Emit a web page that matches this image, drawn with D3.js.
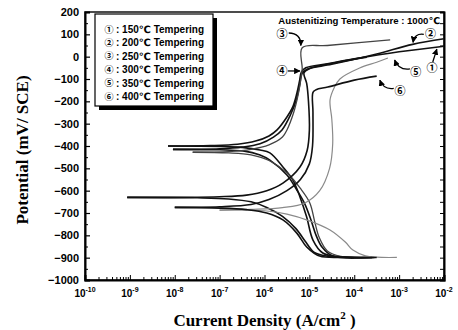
<!DOCTYPE html>
<html>
<head>
<meta charset="utf-8">
<script src="https://cdn.jsdelivr.net/npm/d3@7"></script>
<style>
  html, body { margin: 0; padding: 0; background: #fff; }
  svg { display: block; }
  .num { font-family: "Liberation Sans", Arial, "DejaVu Sans", sans-serif; font-weight: bold; }
  .title { font-family: "Liberation Serif", "Times New Roman", serif; font-weight: bold; }
  .tag { font-family: "Noto Sans CJK JP", "DejaVu Sans", sans-serif; font-weight: bold; }
</style>
</head>
<body>
<svg id="chart" width="458" height="330"></svg>
<script>
// Tempering temperatures (°C) and their circled tags
const tempers = ["150", "200", "250", "300", "350", "400"];
const tags = ["①", "②", "③", "④", "⑤", "⑥"];

// Polarization curves: [log10(current density A/cm²), potential mV vs SCE]
// Each curve is split into its cathodic and anodic branch, both starting at Ecorr.
const cath150 = [[-8.15,-400],[-7.0,-402],[-6.5,-406],[-6.1,-418],[-5.88,-431],[-5.59,-494],[-5.37,-552],[-5.21,-628],[-5.06,-718],[-4.92,-821],[-4.7,-879],[-4.32,-896],[-3.55,-899]];
const anod150 = [[-8.15,-400],[-7.2,-398],[-6.6,-392],[-6.2,-378],[-5.9,-355],[-5.72,-328],[-5.5,-270],[-5.37,-225],[-5.28,-165],[-5.22,-110],[-5.18,-70],[-5.08,-50],[-4.6,-32],[-4.0,-10],[-3.0,22],[-2.0,47]];

const cath200 = [[-8.04,-415],[-7.0,-417],[-6.48,-422],[-6.1,-440],[-5.88,-463],[-5.5,-530],[-5.28,-597],[-5.1,-660],[-4.95,-740],[-4.85,-800],[-4.72,-852],[-4.48,-893],[-3.6,-899]];
const anod200 = [[-8.04,-415],[-7.0,-412],[-6.5,-405],[-6.1,-390],[-5.8,-360],[-5.61,-328],[-5.42,-260],[-5.3,-200],[-5.22,-130],[-5.16,-75],[-5.05,-56],[-4.5,-34],[-3.5,12],[-2.7,55],[-2.0,80]];

const cath250 = [[-7.6,-428],[-6.8,-431],[-6.3,-440],[-5.9,-465],[-5.5,-520],[-5.2,-590],[-4.99,-655],[-4.88,-740],[-4.78,-810],[-4.6,-870],[-4.3,-894],[-3.6,-899]];
const anod250 = [[-7.6,-428],[-6.8,-425],[-6.3,-415],[-5.9,-395],[-5.6,-360],[-5.5,-328],[-5.35,-250],[-5.25,-170],[-5.19,-100],[-5.16,-55],[-5.16,40],[-4.6,50],[-3.2,75]];

const cath300 = [[-9.06,-630],[-7.5,-632],[-6.8,-637],[-6.3,-650],[-5.95,-675],[-5.6,-715],[-5.3,-770],[-5.08,-830],[-4.9,-875],[-4.6,-893],[-4.1,-898],[-3.6,-899]];
const anod300 = [[-9.06,-630],[-7.0,-627],[-6.4,-620],[-5.95,-600],[-5.59,-566],[-5.21,-494],[-5.05,-420],[-5.0,-330],[-5.02,-200],[-5.06,-120],[-5.12,-72],[-5.0,-54],[-4.4,-26],[-3.72,-2]];

const cath350 = [[-7.0,-687],[-6.0,-690],[-5.5,-705],[-5.0,-735],[-4.54,-776],[-4.2,-830],[-4.03,-866],[-3.75,-892],[-3.5,-898],[-3.05,-899]];
const anod350 = [[-7.0,-687],[-6.3,-684],[-5.6,-676],[-5.1,-655],[-4.77,-600],[-4.55,-500],[-4.48,-390],[-4.5,-280],[-4.54,-194],[-4.45,-140],[-4.32,-100],[-3.88,-51],[-3.5,-25],[-3.25,-6]];

const cath400 = [[-8.0,-675],[-7.0,-678],[-6.4,-685],[-5.95,-700],[-5.59,-731],[-5.28,-790],[-5.06,-852],[-4.77,-893],[-4.1,-898],[-3.5,-899]];
const anod400 = [[-8.0,-675],[-7.0,-672],[-6.3,-662],[-5.9,-640],[-5.5,-600],[-5.2,-550],[-5.0,-480],[-4.93,-400],[-4.92,-250],[-4.92,-160],[-4.85,-148],[-4.59,-136],[-4.0,-105],[-3.5,-87]];

const curveColors = ["#111", "#111", "#444", "#111", "#8a8a8a", "#111"];
const curveWidths = [1.6, 1.6, 1.3, 1.6, 1.2, 1.6];

// Axis ticks
const xDecades = [-10, -9, -8, -7, -6, -5, -4, -3, -2];
const yTicks = d3.range(-1000, 201, 100);
const yMinor = d3.range(-950, 200, 100);

// Curve tags in the plot: [label log i, label E, arrow start log i, start E, arrow tip log i, tip E, bend]
const tagSpots = [
  [-2.27, -51, -2.25, -24, -2.16, 34, 0.0],
  [-2.30, 100, -2.45, 100, -2.69, 64, 0.5],
  [-5.61, 101, -5.46, 106, -5.19, 50, -0.5],
  [-5.61, -64, -5.48, -64, -5.21, -64, 0.0],
  [-2.63, -69, -2.76, -55, -3.10, -15, -0.4],
  [-2.98, -154, -3.12, -142, -3.43, -105, -0.4]
];

const svg = d3.select("#chart");
const margin = { left: 85, right: 14, top: 12, bottom: 50 };
const W = 458, H = 330;

const x = d3.scaleLog().domain([1e-10, 1e-2]).range([margin.left, W - margin.right]);
const y = d3.scaleLinear().domain([-1000, 200]).range([H - margin.bottom, margin.top]);

// Frame
svg.append("rect")
  .attr("x", x.range()[0]).attr("y", y.range()[1])
  .attr("width", x.range()[1] - x.range()[0])
  .attr("height", y.range()[0] - y.range()[1])
  .attr("fill", "none").attr("stroke", "#000").attr("stroke-width", 1.4);

// Left axis
const yAxis = svg.append("g").attr("class", "num")
  .attr("transform", `translate(${x.range()[0]},0)`)
  .call(d3.axisLeft(y).tickValues(yTicks).tickSize(-5).tickPadding(6).tickFormat(d3.format("d")));
yAxis.select(".domain").attr("stroke-width", 2);
yAxis.selectAll("text").attr("font-size", 11).attr("font-family", "Liberation Sans, Arial, sans-serif").attr("font-weight", "bold");
yAxis.selectAll(".tick line").attr("stroke-width", 1.2);
svg.append("g")
  .attr("transform", `translate(${x.range()[0]},0)`)
  .call(d3.axisLeft(y).tickValues(yMinor).tickSize(-3).tickFormat(""))
  .call(g => g.select(".domain").remove());

// Right axis
const rAxis = svg.append("g")
  .attr("transform", `translate(${x.range()[1]},0)`)
  .call(d3.axisRight(y).tickValues(yTicks.concat(yMinor)).tickSize(-4).tickFormat(""));
rAxis.select(".domain").attr("stroke-width", 2);

// Bottom axis
const bottomY = y.range()[0];
const xAxis = svg.append("g")
  .attr("transform", `translate(0,${bottomY})`)
  .call(d3.axisBottom(x).tickValues(xDecades.map(e => Math.pow(10, e))).tickSize(-5).tickFormat(""));
xAxis.select(".domain").attr("stroke-width", 2);
const xMinorVals = [];
xDecades.slice(0, -1).forEach(e => { for (let k = 2; k <= 9; k++) xMinorVals.push(k * Math.pow(10, e)); });
svg.append("g")
  .attr("transform", `translate(0,${bottomY})`)
  .call(d3.axisBottom(x).tickValues(xMinorVals).tickSize(-3).tickFormat(""))
  .call(g => g.select(".domain").remove());

// Decade labels 10^n
const xl = svg.append("g").attr("class", "num");
xDecades.forEach(e => {
  const t = xl.append("text")
    .attr("x", x(Math.pow(10, e))).attr("y", bottomY + 17)
    .attr("text-anchor", "middle").attr("font-size", 10);
  t.append("tspan").text("10");
  t.append("tspan").attr("dy", -5).attr("font-size", 7).text(String(e));
});

// Axis titles
svg.append("text").attr("class", "title")
  .attr("transform", `translate(28,${(y.range()[0] + y.range()[1]) / 2 + 4}) rotate(-90)`)
  .attr("text-anchor", "middle").attr("font-size", 17)
  .text("Potential (mV/ SCE)");

const xt = svg.append("text").attr("class", "title")
  .attr("x", (x.range()[0] + x.range()[1]) / 2).attr("y", 326)
  .attr("text-anchor", "middle").attr("font-size", 17);
xt.append("tspan").text("Current Density (A/cm");
xt.append("tspan").attr("dy", -7).attr("font-size", 11).text("2");
xt.append("tspan").attr("dy", 7).text(" )");

// Curves
const line = d3.line()
  .x(d => x(Math.pow(10, d[0])))
  .y(d => y(d[1]))
  .curve(d3.curveCatmullRom.alpha(0.5));

const branches = [
  [cath150, anod150], [cath200, anod200], [cath250, anod250],
  [cath300, anod300], [cath350, anod350], [cath400, anod400]
];
const curveG = svg.append("g");
branches.forEach((pair, i) => {
  pair.forEach(pts => {
    curveG.append("path")
      .attr("d", line(pts))
      .attr("fill", "none")
      .attr("stroke", curveColors[i])
      .attr("stroke-width", curveWidths[i])
      .attr("stroke-linejoin", "round");
  });
});

// Legend with drop shadow
const lg = svg.append("g");
const lx = 95, ly = 14, lw = 118, lh = 92;
lg.append("rect").attr("x", lx + 4).attr("y", ly + 4).attr("width", lw).attr("height", lh).attr("fill", "#000");
lg.append("rect").attr("x", lx).attr("y", ly).attr("width", lw).attr("height", lh)
  .attr("fill", "#fff").attr("stroke", "#000").attr("stroke-width", 1.2);
tempers.forEach((t, i) => {
  const by = ly + 19 + i * 13.4;
  lg.append("text").attr("class", "tag")
    .attr("x", lx + 14).attr("y", by - 0.5)
    .attr("text-anchor", "middle")
    .attr("font-size", 9)
    .text(tags[i]);
  lg.append("text").attr("class", "num")
    .attr("x", lx + 21).attr("y", by)
    .attr("font-size", 10)
    .text(`: ${t}℃ Tempering`);
});

// Heading
svg.append("text").attr("class", "num")
  .attr("x", 440).attr("y", 24).attr("text-anchor", "end")
  .attr("font-size", 9.6)
  .text("Austenitizing Temperature : 1000℃");

// Arrow markers and curve tags
svg.append("defs").append("marker")
  .attr("id", "ah").attr("viewBox", "0 0 10 10")
  .attr("refX", 9).attr("refY", 5)
  .attr("markerWidth", 5).attr("markerHeight", 5)
  .attr("orient", "auto")
  .append("path").attr("d", "M0,0 L10,5 L0,10 z").attr("fill", "#000");

const tg = svg.append("g");
tagSpots.forEach((s, i) => {
  const cx = x(Math.pow(10, s[0])), cy = y(s[1]);
  const x0 = x(Math.pow(10, s[2])), y0 = y(s[3]);
  const x1 = x(Math.pow(10, s[4])), y1 = y(s[5]);
  const mx = (x0 + x1) / 2 - (y1 - y0) * s[6];
  const my = (y0 + y1) / 2 + (x1 - x0) * s[6];
  tg.append("path")
    .attr("d", `M${x0},${y0} Q${mx},${my} ${x1},${y1}`)
    .attr("fill", "none").attr("stroke", "#000").attr("stroke-width", 1.3)
    .attr("marker-end", "url(#ah)");
  tg.append("text").attr("class", "tag")
    .attr("x", cx).attr("y", cy + 4)
    .attr("text-anchor", "middle").attr("font-size", 11)
    .text(tags[i]);
});
</script>
</body>
</html>
